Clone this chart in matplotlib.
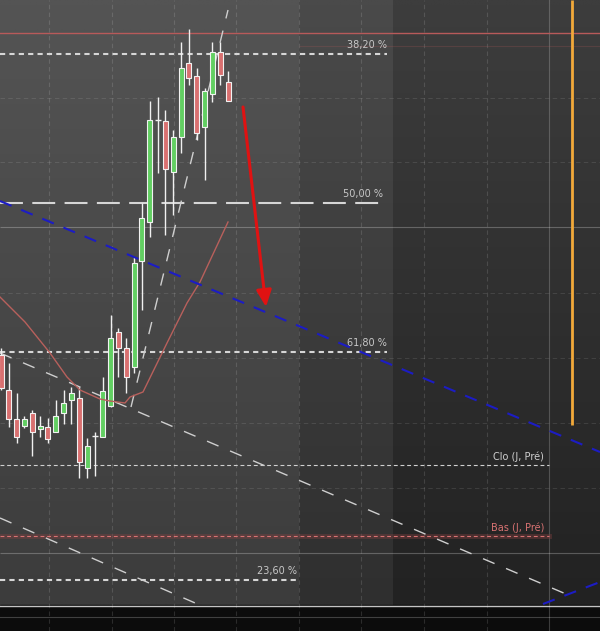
import numpy as np
import matplotlib
matplotlib.use("Agg")
import matplotlib.pyplot as plt

# chart units: x = screen column, y = screen row (axis inverted, down = lower price)
candle_x0 = 1.0
candle_step = 7.83
# candle kind: 1 = up (green), -1 = down (red), 0 = doji
kind = [-1, -1, -1, 1, -1, 1, -1, 1, 1, 1,
        -1, 1, 0, 1, 1, -1, -1, 1, 1, 1,
        0, -1, 1, 1, -1, -1, 1, 1, -1, -1]
body_top = [355, 390, 419, 419, 413, 426, 427, 416, 403, 393,
            398, 446, 436, 391, 338, 332, 348, 263, 218, 120,
            120, 121, 137, 68, 63, 76, 91, 52, 52, 82]
body_bot = [388, 419, 437, 426, 432, 429, 439, 432, 413, 400,
            462, 468, 436, 437, 406, 348, 377, 367, 261, 222,
            120, 169, 172, 137, 78, 133, 127, 94, 75, 101]
wick_top = [348, 363, 393, 416, 410, 416, 418, 400, 390, 387,
            387, 438, 432, 377, 315, 328, 338, 257, 203, 101,
            97, 110, 130, 42, 29, 68, 88, 42, 42, 71]
wick_bot = [390, 427, 443, 428, 456, 437, 443, 432, 424, 424,
            478, 478, 476, 437, 407, 377, 393, 373, 310, 237,
            173, 235, 215, 153, 85, 140, 180, 102, 85, 101]

# moving average
ma_x = [0, 25, 50, 67, 80, 100, 110, 125, 130, 143, 167, 187, 200, 228]
ma_y = [297, 322, 353, 377, 390, 399, 401, 403, 397, 392, 343, 303, 282, 222]

# fibonacci retracements
fib_labels = ["38,20 %", "50,00 %", "61,80 %", "23,60 %"]
fib_y = [54, 203, 352, 580]
fib_end = [387, 383, 387, 297]
fib_dash = [(2.5, 2), (11, 4.5), (2.5, 2), (2.5, 2)]

# previous day levels
prev_labels = ["Clo (J, Pré)", "Bas (J, Pré)"]
prev_y = [465, 536]
prev_colors = ["#d0d0d0", "#d87272"]

# drawn trend lines (x0, y0, x1, y1)
blue_lines = [(0, 201, 600, 452), (543, 604, 600, 582)]
grey_lines = [(0, 353, 566, 594), (0, 518, 202, 606), (131, 407, 228, 10)]
arrow_from = (243, 107)
arrow_to = (266, 307)
red_level = 33
orange_x = 572
orange_end = 425

grid_x = [49, 111.5, 174, 236, 298.5, 361, 424, 486.5]
grid_x_solid = [549]
grid_y = [98, 162, 293, 358, 423, 488]
grid_y_solid = [227, 553]

fig = plt.figure(figsize=(6, 6.31), dpi=100)
ax = fig.add_axes([0, 0, 1, 1])
ax.set_xlim(0, 600)
ax.set_ylim(631, 0)
ax.axis("off")

# background bands with vertical gradient
def band(x0, x1, top, bot):
    g = np.linspace(top, bot, 64)[:, None] / 255.0
    img = np.dstack([g, g, g])
    ax.imshow(img, extent=(x0, x1, 605, 0), aspect="auto", zorder=0,
              interpolation="bilinear")

band(0, 299, 84, 60)
band(299, 393, 74, 47)
band(393, 600, 61, 34)
ax.add_patch(plt.Rectangle((0, 605), 600, 26, color="#0c0c0c", zorder=0))
ax.axhline(605.5, color="#c4c4c4", lw=1, zorder=1)
ax.axhline(616.5, color="#404040", lw=0.8, zorder=1)

for gx in grid_x:
    ax.axvline(gx, color="#ffffff", alpha=0.13, lw=0.8, dashes=(4, 3), zorder=1)
for gx in grid_x_solid:
    ax.axvline(gx, color="#ffffff", alpha=0.2, lw=0.8, zorder=1)
for gy in grid_y:
    ax.hlines(gy, 0, 600, color="#ffffff", alpha=0.1, lw=0.8, linestyles=(0, (4, 3)), zorder=1)
for gy in grid_y_solid:
    ax.hlines(gy, 0, 600, color="#ffffff", alpha=0.25, lw=0.8, zorder=1)

ax.axhline(red_level, color="#b85a5a", lw=1, zorder=2)
ax.hlines(46, 299, 600, color="#b85a5a", alpha=0.22, lw=0.8, zorder=2)

# fibonacci levels
for lab, y, xe, d in zip(fib_labels, fib_y, fib_end, fib_dash):
    ax.plot([0, xe], [y, y], color="#d6d6d6", lw=1.5, dashes=d, zorder=2)
    ax.text(xe, y - 4, lab, color="#c8c8c8", fontsize=7, ha="right", va="bottom", zorder=6)

# previous day levels
ax.plot([0, 549], [prev_y[1], prev_y[1]], color="#7a3e3e", lw=3.5, alpha=0.45, zorder=2)
for lab, y, col in zip(prev_labels, prev_y, prev_colors):
    ax.plot([0, 549], [y, y], color=col, lw=0.8, dashes=(3.5, 2.5), zorder=2)
    ax.text(544, y - 3, lab, color=col, fontsize=7, ha="right", va="bottom", zorder=6)

# grey dashed channel and trend lines
for x0, y0, x1, y1 in grey_lines:
    ax.plot([x0, x1], [y0, y1], color="#cfcfcf", lw=1, dashes=(9, 9), zorder=3)

# candles
xs = candle_x0 + candle_step * np.arange(len(kind))
ax.vlines(xs, wick_top, wick_bot, color="#f0f0f0", lw=1, zorder=4)
for x, k, t, b in zip(xs, kind, body_top, body_bot):
    if k == 0:
        ax.hlines(t, x - 3, x + 3, color="#f0f0f0", lw=1, zorder=5)
        continue
    col = "#62cf62" if k > 0 else "#d97070"
    ax.bar(x, b - t, bottom=t, width=5, color=col, edgecolor="#f2f2f2", lw=0.8, zorder=5)

# moving average
ax.plot(ma_x, ma_y, color="#b8605c", lw=1, zorder=6)

for x0, y0, x1, y1 in blue_lines:
    ax.plot([x0, x1], [y0, y1], color="#1c1cc4", lw=1.5, dashes=(6, 5), zorder=6)

ax.vlines(orange_x, 0, orange_end, color="#f2a93a", lw=2, zorder=6)

ax.annotate("", xy=arrow_to, xytext=arrow_from, zorder=7,
            arrowprops=dict(arrowstyle="-|>,head_length=1.0,head_width=0.45",
                            color="#e01212", lw=2.2, shrinkA=0, shrinkB=0))

fig.savefig("out.png", dpi=100)
